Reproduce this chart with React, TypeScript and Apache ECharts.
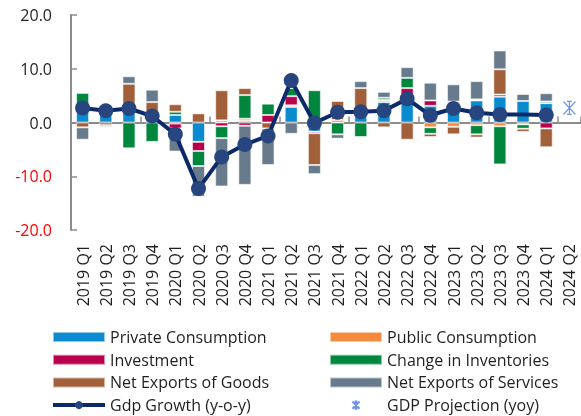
import React, { useEffect, useRef } from "react";
import * as echarts from "echarts";

const quarters = [
  "2019 Q1", "2019 Q2", "2019 Q3", "2019 Q4",
  "2020 Q1", "2020 Q2", "2020 Q3", "2020 Q4",
  "2021 Q1", "2021 Q2", "2021 Q3", "2021 Q4",
  "2022 Q1", "2022 Q2", "2022 Q3", "2022 Q4",
  "2023 Q1", "2023 Q2", "2023 Q3", "2023 Q4",
  "2024 Q1", "2024 Q2",
];

const privateConsumption = [2.0, 2.8, 2.0, 1.3, 1.4, -3.6, 0, 0.3, 0, 2.9, -1.7, 0, 1.2, 3.8, 5.1, 3.1, 3.6, 4.1, 4.8, 4.0, 3.6, null];
const publicConsumption = [0, 0, 0, 0, -0.2, 0, 0.4, 0.4, 0, 0.3, 0, 0.5, 0, 0.4, 0, -0.9, -0.8, -0.5, -0.7, -0.35, 0, null];
const investment = [0, 0, 0, 0, -0.9, -1.7, -0.7, -0.6, 1.4, 1.7, -0.3, 0, 0, 0, 1.3, 1.0, 0.3, 0.2, 0.4, 0, -1.1, null];
const inventories = [3.5, 0.4, -4.8, -3.6, 0.6, -2.8, -2.2, 4.4, 2.1, 1.5, 6.0, -2.2, -2.7, 0.4, 1.9, -1.2, 0, -1.7, -7.1, -0.8, 0.3, null];
const netGoods = [-0.9, -0.5, 5.2, 2.5, 1.4, 1.7, 5.6, 1.3, -1.1, 0, -5.9, 3.5, 5.2, -0.9, -3.2, -0.6, -1.4, -0.6, 4.7, -0.6, -3.5, null];
const netServices = [-2.3, -0.3, 1.4, 2.3, -4.3, -5.7, -9.0, -11.0, -6.8, -2.1, -1.7, -0.8, 1.3, 1.1, 2.0, 3.3, 3.2, 3.4, 3.5, 1.3, 1.55, null];
const gdpGrowth = [2.7, 2.2, 2.6, 1.2, -2.2, -12.3, -6.4, -4.1, -2.5, 7.8, -0.1, 1.9, 2.0, 2.2, 4.4, 1.35, 2.6, 1.8, 1.5, 1.5, 1.4, null];
const gdpProjection = [null, null, null, null, null, null, null, null, null, null, null, null, null, null, null, null, null, null, null, null, null, 2.7];
const noMarkerQuarters = ["2023 Q4"];

const yTicks = { min: -20, max: 20, interval: 10 };

const FONT = "Open Sans";

const barSeries = [
  { name: "Private Consumption", data: privateConsumption, color: "#0a8bd0" },
  { name: "Public Consumption", data: publicConsumption, color: "#f68b3d" },
  { name: "Investment", data: investment, color: "#b8004d" },
  { name: "Change in Inventories", data: inventories, color: "#00873d" },
  { name: "Net Exports of Goods", data: netGoods, color: "#a2603a" },
  { name: "Net Exports of Services", data: netServices, color: "#687b8d" },
];

const starPath = "path://M0,0L10,10M10,0L0,10M5,0L5,10M3,0L7,0M3,10L7,10";
const starLegendPath = "path://M-2,-2M12,12M0,0L10,10M10,0L0,10M5,0L5,10M3,0L7,0M3,10L7,10";

export default function App() {
  const ref = useRef<HTMLDivElement>(null);
  useEffect(() => {
    if (!ref.current) return;
    const chart = echarts.init(ref.current, null, { renderer: "svg" });
    const series: any[] = barSeries.map((s) => ({
      name: s.name,
      type: "bar",
      stack: "total",
      data: s.data,
      barWidth: 13,
      itemStyle: { color: s.color, borderColor: "rgba(255,255,255,0.55)", borderWidth: 1 },
      emphasis: { disabled: true },
    }));
    series.push({
      name: "Gdp Growth (y-o-y)",
      type: "line",
      data: gdpGrowth.map((v, i) =>
        noMarkerQuarters.includes(quarters[i]) ? { value: v, symbol: "none" } : v
      ),
      symbol: "circle",
      symbolSize: 15,
      z: 5,
      itemStyle: { color: "#27467f" },
      lineStyle: { color: "#0c2a69", width: 4 },
      emphasis: { disabled: true },
    });
    series.push({
      name: "GDP Projection (yoy)",
      type: "scatter",
      data: gdpProjection,
      symbol: starPath,
      symbolSize: [12, 13],
      z: 6,
      itemStyle: { color: "rgba(0,0,0,0)", borderColor: "#4a7bd8", borderWidth: 1.2 },
      emphasis: { disabled: true },
    });

    const legendText = { fontFamily: FONT, fontSize: 16, color: "#1f1f1f", lineHeight: 16 };
    const legendCommon = {
      orient: "vertical",
      top: 329,
      height: 90,
      padding: 0,
      itemWidth: 52,
      itemHeight: 10,
      itemGap: 6.7,
      textStyle: legendText,
      selectedMode: false,
    };

    chart.setOption({
      animation: false,
      textStyle: { fontFamily: FONT },
      grid: { left: 71, top: 15, width: 512, height: 215, containLabel: false },
      legend: [
        {
          ...legendCommon,
          left: 51,
          data: [
            { name: "Private Consumption", icon: "rect" },
            { name: "Investment", icon: "rect" },
            { name: "Net Exports of Goods", icon: "rect" },
            { name: "Gdp Growth (y-o-y)", lineStyle: { width: 4, color: "#0c2a69" } },
          ],
        },
        {
          ...legendCommon,
          left: 329,
          data: [
            { name: "Public Consumption", icon: "rect" },
            { name: "Change in Inventories", icon: "rect" },
            { name: "Net Exports of Services", icon: "rect" },
            { name: "GDP Projection (yoy)", icon: starLegendPath },
          ],
        },
      ],
      xAxis: [
        {
          type: "category",
          data: quarters,
          position: "bottom",
          axisLine: { show: false, onZero: false },
          axisTick: { show: false },
          axisLabel: {
            rotate: 90,
            margin: 14,
            fontFamily: FONT,
            fontSize: 16,
            color: "#1f1f1f",
            interval: 0,
          },
        },
        {
          type: "category",
          data: quarters,
          position: "top",
          axisLine: { show: true, onZero: true, lineStyle: { color: "#8c8c8c", width: 2 } },
          axisTick: { show: true, inside: false, length: 6, lineStyle: { color: "#8c8c8c", width: 1.5 } },
          axisLabel: { show: false },
        },
      ],
      yAxis: {
        type: "value",
        min: yTicks.min,
        max: yTicks.max,
        interval: yTicks.interval,
        splitLine: { show: false },
        axisLine: { show: true, lineStyle: { color: "#8c8c8c", width: 2 } },
        axisTick: { show: true, inside: true, length: 6, lineStyle: { color: "#8c8c8c", width: 1.5 } },
        axisLabel: {
          margin: 19,
          fontFamily: FONT,
          fontSize: 16,
          formatter: (v: number) => v.toFixed(1),
          color: (v: any) => (Number(v) < 0 ? "#ff0000" : "#1f1f1f"),
        },
      },
      series,
    });
    return () => chart.dispose();
  }, []);
  return (
    <div
      ref={ref}
      style={{ position: "fixed", left: 0, top: 0, width: 581, height: 416 }}
    />
  );
}
